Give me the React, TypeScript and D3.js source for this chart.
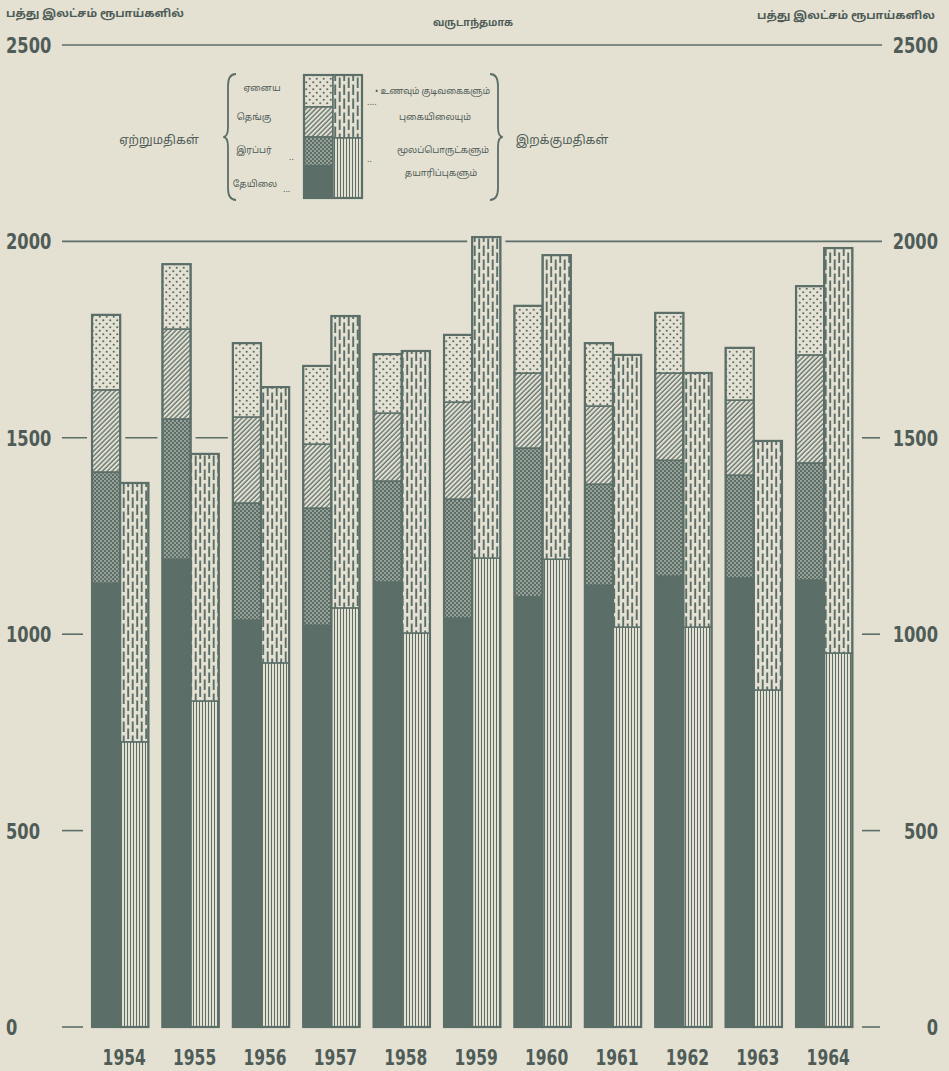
import React, { useEffect, useRef } from 'react';
import * as d3 from 'd3';

// values in millions of rupees
const years = ['1954', '1955', '1956', '1957', '1958', '1959', '1960', '1961', '1962', '1963', '1964'];
const tea = [1130, 1191, 1036, 1023, 1133, 1041, 1095, 1125, 1148, 1143, 1138];
const rubber = [283, 357, 298, 298, 257, 303, 379, 257, 295, 262, 298];
const coconut = [209, 229, 219, 163, 173, 247, 191, 199, 222, 191, 275];
const others = [191, 165, 188, 199, 150, 171, 171, 160, 153, 133, 175];
const rawMaterials = [726, 830, 927, 1067, 1003, 1194, 1191, 1018, 1018, 858, 952];
const foodDrinkTobacco = [659, 629, 702, 743, 718, 817, 774, 693, 647, 634, 1031];
const yTicks = [0, 500, 1000, 1500, 2000, 2500];

const exportKeys = ['tea', 'rubber', 'coconut', 'others'];
const importKeys = ['raw', 'food'];

const BG = '#e4e1d3';
const INK = '#5b6e68';
const TXT = '#4f5c57';
const NUM_FONT = '"DejaVu Sans", sans-serif';
const TA_FONT = '"Noto Sans Tamil", "Noto Sans", "Latha", sans-serif';
const NUM_SQUEEZE = 0.74; // the printed digits are a condensed face

const fills: Record<string, string> = {
  tea: INK,
  rubber: 'url(#p-rubber)',
  coconut: 'url(#p-coconut)',
  others: 'url(#p-others)',
  raw: 'url(#p-raw)',
  food: 'url(#p-food)',
};

const W = 949;
const H = 1071;

const App: React.FC = () => {
  const svgRef = useRef<SVGSVGElement>(null);

  useEffect(() => {
    document.body.style.margin = '0';
    if (!svgRef.current) return;
    const svg = d3.select(svgRef.current);
    svg.selectAll('*').remove();

    const defs = svg.append('defs');

    // others: dark dots on paper
    const pOthers = defs.append('pattern').attr('id', 'p-others')
      .attr('patternUnits', 'userSpaceOnUse').attr('width', 7).attr('height', 7);
    pOthers.append('rect').attr('width', 7).attr('height', 7).attr('fill', BG);
    pOthers.append('circle').attr('cx', 1.75).attr('cy', 1.75).attr('r', 1.1).attr('fill', INK);
    pOthers.append('circle').attr('cx', 5.25).attr('cy', 5.25).attr('r', 1.1).attr('fill', INK);

    // coconut: diagonal hatch
    const pCoco = defs.append('pattern').attr('id', 'p-coconut')
      .attr('patternUnits', 'userSpaceOnUse').attr('width', 3.4).attr('height', 3.4)
      .attr('patternTransform', 'rotate(45)');
    pCoco.append('rect').attr('width', 3.4).attr('height', 3.4).attr('fill', BG);
    pCoco.append('line').attr('x1', 1).attr('y1', 0).attr('x2', 1).attr('y2', 3.4)
      .attr('stroke', INK).attr('stroke-width', 1.3);

    // rubber: dark with light dots
    const pRub = defs.append('pattern').attr('id', 'p-rubber')
      .attr('patternUnits', 'userSpaceOnUse').attr('width', 4).attr('height', 4);
    pRub.append('rect').attr('width', 4).attr('height', 4).attr('fill', INK);
    pRub.append('circle').attr('cx', 1).attr('cy', 1).attr('r', 0.8).attr('fill', BG);
    pRub.append('circle').attr('cx', 3).attr('cy', 3).attr('r', 0.8).attr('fill', BG);

    // raw materials: fine vertical lines
    const pRaw = defs.append('pattern').attr('id', 'p-raw')
      .attr('patternUnits', 'userSpaceOnUse').attr('width', 3).attr('height', 3);
    pRaw.append('rect').attr('width', 3).attr('height', 3).attr('fill', BG);
    pRaw.append('line').attr('x1', 1.5).attr('y1', 0).attr('x2', 1.5).attr('y2', 3)
      .attr('stroke', INK).attr('stroke-width', 1);

    // food, drink, tobacco: staggered vertical dashes
    const pFood = defs.append('pattern').attr('id', 'p-food')
      .attr('patternUnits', 'userSpaceOnUse').attr('width', 9).attr('height', 14);
    pFood.append('rect').attr('width', 9).attr('height', 14).attr('fill', BG);
    const dash = (x0: number, a: number, b: number) => pFood.append('line')
      .attr('x1', x0).attr('y1', a).attr('x2', x0).attr('y2', b)
      .attr('stroke', INK).attr('stroke-width', 1.9);
    dash(2.2, 0.5, 11);
    dash(6.7, 7.5, 14);
    dash(6.7, 0, 4);

    svg.append('rect').attr('width', W).attr('height', H).attr('fill', BG);

    const x = d3.scaleBand<string>().domain(years).range([85, 859.4])
      .paddingInner(0.2).paddingOuter(0.1);
    const sub = d3.scaleBand<string>().domain(['exp', 'imp']).range([0, x.bandwidth()]);
    const y = d3.scaleLinear().domain([0, 2500]).range([1027, 45]);

    const rows = years.map((yr, i) => ({
      year: yr,
      tea: tea[i], rubber: rubber[i], coconut: coconut[i], others: others[i],
      raw: rawMaterials[i], food: foodDrinkTobacco[i],
    }));

    // grid lines and ticks
    const grid = svg.append('g').attr('stroke', INK).attr('stroke-width', 1.6);
    yTicks.forEach(t => {
      const yy = y(t);
      if (t >= 2000) {
        grid.append('line').attr('x1', 62).attr('x2', 882).attr('y1', yy).attr('y2', yy);
      } else {
        grid.append('line').attr('x1', 62).attr('x2', t === 1500 ? 230 : 83).attr('y1', yy).attr('y2', yy);
        grid.append('line').attr('x1', 862).attr('x2', 880).attr('y1', yy).attr('y2', yy);
      }
    });

    const numLabel = (tx: number, ty: number, anchor: string, s: string, size: number) => {
      svg.append('g').attr('transform', `translate(${tx},${ty}) scale(${NUM_SQUEEZE},1)`)
        .append('text').attr('text-anchor', anchor).attr('dy', '0.36em')
        .attr('fill', TXT).attr('font-family', NUM_FONT).attr('font-weight', 'bold')
        .attr('font-size', size).text(s);
    };
    yTicks.forEach(t => {
      numLabel(6, y(t), 'start', String(t), 22);
      numLabel(938, y(t), 'end', String(t), 22);
    });

    const exportStack = d3.stack<any>().keys(exportKeys)(rows);
    const importStack = d3.stack<any>().keys(importKeys)(rows);

    const halos = svg.append('g');
    const bars = svg.append('g');
    const drawGroup = (stack: d3.Series<any, string>[], part: string) => {
      const bx = (d: any) => (x(d.data.year) as number) + (sub(part) as number);
      const bw = sub.bandwidth();
      const top = stack[stack.length - 1];
      // paper halo that breaks the grid lines around the bars
      halos.append('g').selectAll('rect').data(top).join('rect')
        .attr('x', d => bx(d) - 5).attr('width', bw + 10)
        .attr('y', d => y(d[1]) - 5).attr('height', d => y(0) - y(d[1]) + 5)
        .attr('fill', BG);
      stack.forEach(series => {
        bars.append('g').selectAll('rect').data(series).join('rect')
          .attr('x', bx).attr('width', bw)
          .attr('y', d => y(d[1])).attr('height', d => y(d[0]) - y(d[1]))
          .attr('fill', fills[series.key])
          .attr('stroke', INK).attr('stroke-width', 1.5);
      });
      bars.append('g').selectAll('rect').data(top).join('rect')
        .attr('x', bx).attr('width', bw)
        .attr('y', d => y(d[1])).attr('height', d => y(0) - y(d[1]))
        .attr('fill', 'none').attr('stroke', INK).attr('stroke-width', 2.2);
    };
    drawGroup(exportStack, 'exp');
    drawGroup(importStack, 'imp');

    // year labels
    years.forEach(yr => numLabel((x(yr) as number) + x.bandwidth() / 2 + 4, 1057, 'middle', yr, 21));

    // headers
    const ta = svg.append('g').attr('fill', TXT).attr('font-family', TA_FONT).attr('font-weight', 'bold');
    ta.append('text').attr('x', 6).attr('y', 17).attr('font-size', 11)
      .attr('textLength', 178).attr('lengthAdjust', 'spacingAndGlyphs').text('பத்து இலட்சம் ரூபாய்களில்');
    ta.append('text').attr('x', 757).attr('y', 19).attr('font-size', 11)
      .attr('textLength', 178).attr('lengthAdjust', 'spacingAndGlyphs').text('பத்து இலட்சம் ரூபாய்களில');
    ta.append('text').attr('x', 433).attr('y', 26).attr('font-size', 10)
      .attr('textLength', 80).attr('lengthAdjust', 'spacingAndGlyphs').text('வருடாந்தமாக');

    // legend
    const lg = svg.append('g');
    const lx = 304, lw = 29, ly = 75;
    const expCells = [
      { key: 'others', y0: 75, y1: 107 },
      { key: 'coconut', y0: 107, y1: 137 },
      { key: 'rubber', y0: 137, y1: 166 },
      { key: 'tea', y0: 166, y1: 198 },
    ];
    const impCells = [
      { key: 'food', y0: 75, y1: 138 },
      { key: 'raw', y0: 138, y1: 198 },
    ];
    expCells.forEach(c => lg.append('rect').attr('x', lx).attr('y', c.y0).attr('width', lw)
      .attr('height', c.y1 - c.y0).attr('fill', fills[c.key]).attr('stroke', INK).attr('stroke-width', 1.5));
    impCells.forEach(c => lg.append('rect').attr('x', lx + lw).attr('y', c.y0).attr('width', lw)
      .attr('height', c.y1 - c.y0).attr('fill', fills[c.key]).attr('stroke', INK).attr('stroke-width', 1.5));
    lg.append('rect').attr('x', lx).attr('y', ly).attr('width', lw * 2).attr('height', 123)
      .attr('fill', 'none').attr('stroke', INK).attr('stroke-width', 2.2);

    const lt = svg.append('g').attr('fill', TXT).attr('font-family', TA_FONT).attr('font-size', 9);
    const leftLabels = [
      { t: 'ஏனைய', x: 262, y: 91 },
      { t: 'தெங்கு', x: 254, y: 120 },
      { t: 'இரப்பர்', x: 254, y: 153 },
      { t: 'தேயிலை', x: 255, y: 187 },
    ];
    leftLabels.forEach(l => lt.append('text').attr('x', l.x).attr('y', l.y).attr('text-anchor', 'middle').text(l.t));
    lt.append('text').attr('x', 289).attr('y', 160).text('..');
    lt.append('text').attr('x', 283).attr('y', 192).text('...');
    lt.append('text').attr('x', 375).attr('y', 94).text('• உணவும் குடிவகைகளும்')
      .attr('textLength', 115).attr('lengthAdjust', 'spacingAndGlyphs');
    lt.append('text').attr('x', 367).attr('y', 105).text('....');
    lt.append('text').attr('x', 435).attr('y', 120).attr('text-anchor', 'middle').text('புகையிலையும்');
    lt.append('text').attr('x', 443).attr('y', 153).attr('text-anchor', 'middle').text('மூலப்பொருட்களும்');
    lt.append('text').attr('x', 367).attr('y', 162).text('..');
    lt.append('text').attr('x', 441).attr('y', 176).attr('text-anchor', 'middle').text('தயாரிப்புகளும்');

    // braces
    const brace = (bx: number, dir: number) => {
      const t = 74, b = 200, m = 137, w = 8 * dir;
      const p = `M${bx + w},${t} Q${bx},${t} ${bx},${t + 12} L${bx},${m - 10} Q${bx},${m} ${bx - w * 0.6},${m}`
        + ` Q${bx},${m} ${bx},${m + 10} L${bx},${b - 12} Q${bx},${b} ${bx + w},${b}`;
      lg.append('path').attr('d', p).attr('fill', 'none').attr('stroke', INK).attr('stroke-width', 1.8);
    };
    brace(228, 1);
    brace(498, -1);

    ta.append('text').attr('x', 159).attr('y', 144).attr('font-size', 12).attr('text-anchor', 'middle')
      .attr('font-weight', 'normal').text('ஏற்றுமதிகள்');
    ta.append('text').attr('x', 562).attr('y', 144).attr('font-size', 12).attr('text-anchor', 'middle')
      .attr('font-weight', 'normal').text('இறக்குமதிகள்');
  }, []);

  return (
    <div style={{ width: W, height: H, overflow: 'hidden' }}>
      <svg ref={svgRef} width={W} height={H} style={{ display: 'block' }}></svg>
    </div>
  );
};

export default App;
